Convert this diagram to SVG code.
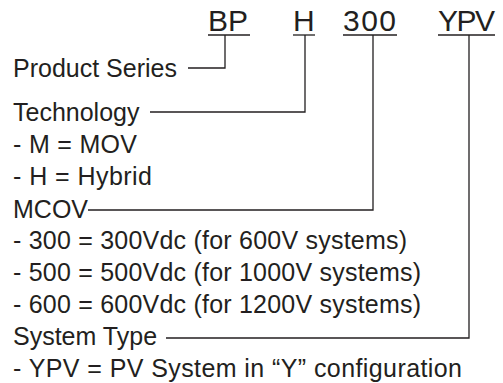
<svg xmlns="http://www.w3.org/2000/svg" width="503" height="383" viewBox="0 0 503 383">
<style>
.t{font-family:"Liberation Sans",Arial,sans-serif;font-size:25px;fill:#231f20}
.c{font-family:"Liberation Sans",Arial,sans-serif;font-size:30px;fill:#231f20}
.ln{stroke:#231f20;stroke-width:1.3;fill:none}
</style>
<rect width="503" height="383" fill="#ffffff"/>
<g id="code-bp"><text class="c" x="208" y="31">BP</text><line class="ln" x1="208" y1="35" x2="250" y2="35"/></g>
<g id="code-h"><text class="c" x="293" y="31">H</text><line class="ln" x1="293" y1="35" x2="315" y2="35"/></g>
<g id="code-300"><text class="c" x="343" y="31" textLength="53" lengthAdjust="spacing">300</text><line class="ln" x1="343" y1="35" x2="397" y2="35"/></g>
<g id="code-ypv"><text class="c" x="438" y="31" textLength="57" lengthAdjust="spacing">YPV</text><line class="ln" x1="438" y1="35" x2="495" y2="35"/></g>
<g id="product-series"><text class="t" x="13" y="77">Product Series</text></g>
<g id="technology"><text class="t" x="13" y="121">Technology</text><text class="t" x="13" y="153" textLength="124" lengthAdjust="spacing">- M = MOV</text><text class="t" x="13" y="185" textLength="139" lengthAdjust="spacing">- H = Hybrid</text></g>
<g id="mcov"><text class="t" x="13" y="218">MCOV</text><text class="t" x="13" y="249" textLength="394" lengthAdjust="spacing">- 300 = 300Vdc (for 600V systems)</text><text class="t" x="13" y="281" textLength="408" lengthAdjust="spacing">- 500 = 500Vdc (for 1000V systems)</text><text class="t" x="13" y="313" textLength="408" lengthAdjust="spacing">- 600 = 600Vdc (for 1200V systems)</text></g>
<g id="system-type"><text class="t" x="13" y="345">System Type</text><text class="t" x="13" y="377" textLength="449" lengthAdjust="spacing">- YPV = PV System in “Y” configuration</text></g>
<g id="connectors">
<polyline class="ln" points="188,68 225,68 225,35"/>
<polyline class="ln" points="150,112 305,112 305,35"/>
<polyline class="ln" points="88,210 373,210 373,35"/>
<polyline class="ln" points="166,338 469,338 469,35"/>
</g>
</svg>
